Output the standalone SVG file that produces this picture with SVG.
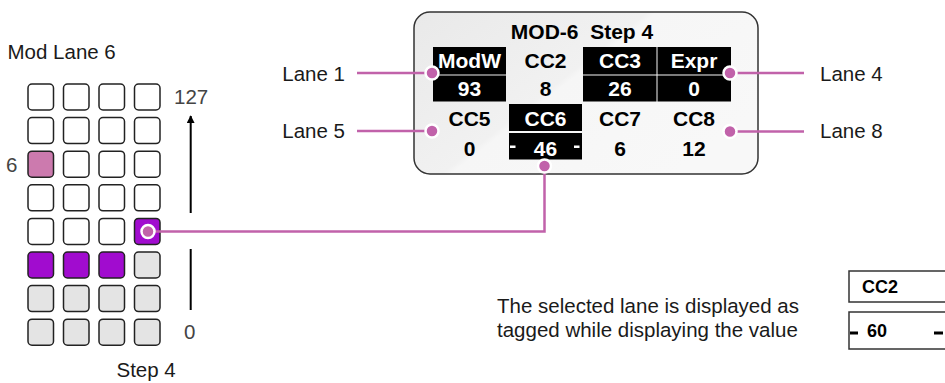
<svg xmlns="http://www.w3.org/2000/svg" width="945" height="383" viewBox="0 0 945 383">
<defs>
<style>
.t{font-family:"Liberation Sans",Arial,sans-serif;font-size:20.5px;fill:#1a1a1a}
.g{fill:#444}
.b{font-family:"Liberation Sans",Arial,sans-serif;font-weight:bold;font-size:21px;text-anchor:middle;fill:#000}
.w{fill:#fff}
.cell{stroke:#222;stroke-width:1.5}
.e{fill:#fff}
.p{fill:#cc7aae}
.v{fill:#a10ccf}
.q{fill:#e4e4e4}
.wire{fill:none;stroke:#c162aa;stroke-width:2.5}
.dot{fill:#c162aa;stroke:#fff;stroke-width:2.5}
.blk{fill:#000}
</style>
<linearGradient id="bg" x1="0" y1="0" x2="1" y2="0.6">
<stop offset="0" stop-color="#e9e9e9"/>
<stop offset="0.5" stop-color="#f1f1f1"/>
<stop offset="0.52" stop-color="#f6f6f6"/>
<stop offset="1" stop-color="#f8f8f8"/>
</linearGradient>
<marker id="ah" viewBox="0 0 10 10" refX="9" refY="5" markerWidth="8" markerHeight="8" orient="auto" markerUnits="userSpaceOnUse">
<path d="M0,0 L10,5 L0,10 z" fill="#000"/>
</marker>
</defs>

<g id="grid">
<text class="t" x="7.5" y="59">Mod Lane 6</text>
<text class="t g" x="174" y="104">127</text>
<text class="t g" x="6" y="172">6</text>
<text class="t g" x="184" y="339">0</text>
<text class="t" x="116.5" y="377">Step 4</text>
<g id="cells">
<rect class="cell e" x="28" y="84" width="25.5" height="26" rx="4"/>
<rect class="cell e" x="63.5" y="84" width="25.5" height="26" rx="4"/>
<rect class="cell e" x="99" y="84" width="25.5" height="26" rx="4"/>
<rect class="cell e" x="134.5" y="84" width="25.5" height="26" rx="4"/>
<rect class="cell e" x="28" y="117.6" width="25.5" height="26" rx="4"/>
<rect class="cell e" x="63.5" y="117.6" width="25.5" height="26" rx="4"/>
<rect class="cell e" x="99" y="117.6" width="25.5" height="26" rx="4"/>
<rect class="cell e" x="134.5" y="117.6" width="25.5" height="26" rx="4"/>
<rect class="cell p" x="28" y="151.2" width="25.5" height="26" rx="4"/>
<rect class="cell e" x="63.5" y="151.2" width="25.5" height="26" rx="4"/>
<rect class="cell e" x="99" y="151.2" width="25.5" height="26" rx="4"/>
<rect class="cell e" x="134.5" y="151.2" width="25.5" height="26" rx="4"/>
<rect class="cell e" x="28" y="184.8" width="25.5" height="26" rx="4"/>
<rect class="cell e" x="63.5" y="184.8" width="25.5" height="26" rx="4"/>
<rect class="cell e" x="99" y="184.8" width="25.5" height="26" rx="4"/>
<rect class="cell e" x="134.5" y="184.8" width="25.5" height="26" rx="4"/>
<rect class="cell e" x="28" y="218.4" width="25.5" height="26" rx="4"/>
<rect class="cell e" x="63.5" y="218.4" width="25.5" height="26" rx="4"/>
<rect class="cell e" x="99" y="218.4" width="25.5" height="26" rx="4"/>
<rect class="cell v" x="134.5" y="218.4" width="25.5" height="26" rx="4"/>
<rect class="cell v" x="28" y="252" width="25.5" height="26" rx="4"/>
<rect class="cell v" x="63.5" y="252" width="25.5" height="26" rx="4"/>
<rect class="cell v" x="99" y="252" width="25.5" height="26" rx="4"/>
<rect class="cell q" x="134.5" y="252" width="25.5" height="26" rx="4"/>
<rect class="cell q" x="28" y="285.6" width="25.5" height="26" rx="4"/>
<rect class="cell q" x="63.5" y="285.6" width="25.5" height="26" rx="4"/>
<rect class="cell q" x="99" y="285.6" width="25.5" height="26" rx="4"/>
<rect class="cell q" x="134.5" y="285.6" width="25.5" height="26" rx="4"/>
<rect class="cell q" x="28" y="319.2" width="25.5" height="26" rx="4"/>
<rect class="cell q" x="63.5" y="319.2" width="25.5" height="26" rx="4"/>
<rect class="cell q" x="99" y="319.2" width="25.5" height="26" rx="4"/>
<rect class="cell q" x="134.5" y="319.2" width="25.5" height="26" rx="4"/>
</g>
<line x1="190.7" y1="213" x2="190.7" y2="116" stroke="#000" stroke-width="2" marker-end="url(#ah)"/>
<line x1="190.7" y1="249" x2="190.7" y2="310" stroke="#000" stroke-width="2"/>
</g>

<g id="display">
<rect x="414" y="12" width="344" height="162" rx="16" fill="url(#bg)" stroke="#333" stroke-width="1.5"/>
<text class="b" x="582" y="39" xml:space="preserve">MOD-6  Step 4</text>
<rect class="blk" x="433" y="47" width="73" height="27.5"/>
<rect class="blk" x="433" y="75.5" width="73" height="26"/>
<rect class="blk" x="583" y="47" width="73.5" height="27.5"/>
<rect class="blk" x="657.5" y="47" width="73.5" height="27.5"/>
<rect class="blk" x="583" y="75.5" width="73.5" height="26"/>
<rect class="blk" x="657.5" y="75.5" width="73.5" height="26"/>
<rect class="blk" x="509" y="104" width="73" height="27"/>
<rect class="blk" x="509" y="133" width="73" height="26.5"/>
<rect class="w" x="510" y="145.5" width="5.5" height="2.5"/>
<rect class="w" x="574" y="145.5" width="5.5" height="2.5"/>
<text class="b w" x="469.5" y="68">ModW</text>
<text class="b" x="545.5" y="68">CC2</text>
<text class="b w" x="620" y="68">CC3</text>
<text class="b w" x="694" y="68">Expr</text>
<text class="b w" x="469.5" y="96">93</text>
<text class="b" x="545.5" y="96">8</text>
<text class="b w" x="620" y="96">26</text>
<text class="b w" x="694" y="96">0</text>
<text class="b" x="469.5" y="126">CC5</text>
<text class="b w" x="545.5" y="126">CC6</text>
<text class="b" x="620" y="126">CC7</text>
<text class="b" x="694" y="126">CC8</text>
<text class="b" x="469.5" y="155.5">0</text>
<text class="b w" x="545.5" y="155.5">46</text>
<text class="b" x="620" y="155.5">6</text>
<text class="b" x="694" y="155.5">12</text>
</g>

<g id="lane-labels">
<text class="t" x="345" y="80.5" text-anchor="end">Lane 1</text>
<text class="t" x="345" y="138" text-anchor="end">Lane 5</text>
<text class="t" x="820" y="81">Lane 4</text>
<text class="t" x="820" y="138">Lane 8</text>
</g>

<g id="connectors">
<path class="wire" d="M357,73 H432"/>
<path class="wire" d="M357,131 H432"/>
<path class="wire" d="M730,73 H804"/>
<path class="wire" d="M730,131.5 H804"/>
<path class="wire" d="M148,231.5 H544.5 V166"/>
<circle class="dot" cx="432" cy="73" r="6.5"/>
<circle class="dot" cx="432" cy="131" r="6.5"/>
<circle class="dot" cx="730" cy="73" r="6.5"/>
<circle class="dot" cx="730" cy="131.5" r="6.5"/>
<circle class="dot" cx="544.5" cy="166" r="6.5"/>
<circle class="dot" cx="148" cy="231.5" r="6.5"/>
</g>

<g id="legend">
<text class="t" x="497" y="313">The selected lane is displayed as</text>
<text class="t" x="497" y="337">tagged while displaying the value</text>
<rect x="849" y="271" width="120" height="31" fill="#fff" stroke="#333" stroke-width="1.5"/>
<rect x="849" y="312" width="120" height="37" fill="#fff" stroke="#333" stroke-width="1.5"/>
<text class="b" x="880" y="293" style="font-size:18px">CC2</text>
<text class="b" x="877" y="337" style="font-size:18px">60</text>
<rect class="blk" x="850" y="331.5" width="8" height="3"/>
<rect class="blk" x="934" y="331.5" width="9" height="3"/>
</g>
</svg>
